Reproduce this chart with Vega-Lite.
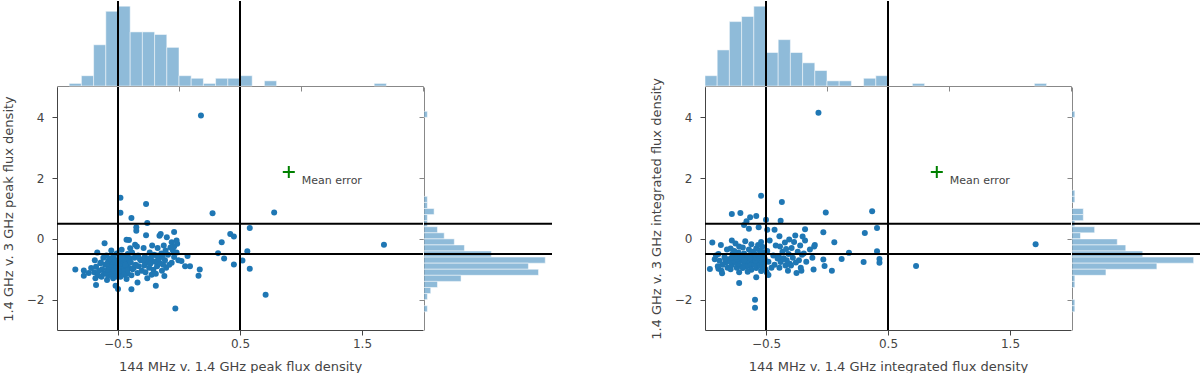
{
  "$schema": "https://vega.github.io/schema/vega-lite/v6.json",
  "padding": {"left": 2, "top": 0, "right": 0, "bottom": 0},
  "background": "white",
  "config": {
    "view": {"stroke": null},
    "font": "DejaVu Sans",
    "axis": {"grid": false, "labelFont": "DejaVu Sans", "titleFont": "DejaVu Sans", "labelFontSize": 12, "titleFontSize": 13, "titleFontWeight": "normal", "labelColor": "#444", "titleColor": "#444", "domainColor": "#444", "tickColor": "#444"}
  },
  "datasets": {
    "vlines": [{"v": -0.5}, {"v": 0.5}],
    "mean": [{"x": 0.9, "y": 2.2, "label": "Mean error"}],
    "histTopL": [
      {"lo": -0.9, "hi": -0.8, "n": 1}, {"lo": -0.8, "hi": -0.7, "n": 4}, {"lo": -0.7, "hi": -0.6, "n": 16}, {"lo": -0.6, "hi": -0.5, "n": 29},
      {"lo": -0.5, "hi": -0.4, "n": 31}, {"lo": -0.4, "hi": -0.3, "n": 21}, {"lo": -0.3, "hi": -0.2, "n": 21}, {"lo": -0.2, "hi": -0.1, "n": 20},
      {"lo": -0.1, "hi": 0.0, "n": 15}, {"lo": 0.0, "hi": 0.1, "n": 4}, {"lo": 0.1, "hi": 0.2, "n": 3}, {"lo": 0.2, "hi": 0.3, "n": 1},
      {"lo": 0.3, "hi": 0.4, "n": 3}, {"lo": 0.4, "hi": 0.5, "n": 3}, {"lo": 0.5, "hi": 0.6, "n": 4}, {"lo": 0.7, "hi": 0.8, "n": 2},
      {"lo": 1.6, "hi": 1.7, "n": 1}
    ],
    "histTopR": [
      {"lo": -1.0, "hi": -0.9, "n": 4}, {"lo": -0.9, "hi": -0.8, "n": 14}, {"lo": -0.8, "hi": -0.7, "n": 25}, {"lo": -0.7, "hi": -0.6, "n": 27},
      {"lo": -0.6, "hi": -0.5, "n": 31}, {"lo": -0.5, "hi": -0.4, "n": 13}, {"lo": -0.4, "hi": -0.3, "n": 18}, {"lo": -0.3, "hi": -0.2, "n": 13},
      {"lo": -0.2, "hi": -0.1, "n": 9}, {"lo": -0.1, "hi": 0.0, "n": 6}, {"lo": 0.0, "hi": 0.1, "n": 2}, {"lo": 0.1, "hi": 0.2, "n": 2},
      {"lo": 0.3, "hi": 0.4, "n": 3}, {"lo": 0.4, "hi": 0.5, "n": 4}, {"lo": 0.7, "hi": 0.8, "n": 1}, {"lo": 1.7, "hi": 1.8, "n": 1}
    ],
    "histRightL": [
      {"lo": 4.0, "hi": 4.2, "n": 1}, {"lo": 1.2, "hi": 1.4, "n": 1}, {"lo": 1.0, "hi": 1.2, "n": 1}, {"lo": 0.8, "hi": 1.0, "n": 3},
      {"lo": 0.6, "hi": 0.8, "n": 1}, {"lo": 0.4, "hi": 0.6, "n": 1}, {"lo": 0.2, "hi": 0.4, "n": 4}, {"lo": 0.0, "hi": 0.2, "n": 6},
      {"lo": -0.2, "hi": 0.0, "n": 9}, {"lo": -0.4, "hi": -0.2, "n": 12}, {"lo": -0.6, "hi": -0.4, "n": 20}, {"lo": -0.8, "hi": -0.6, "n": 36},
      {"lo": -1.0, "hi": -0.8, "n": 31}, {"lo": -1.2, "hi": -1.0, "n": 34}, {"lo": -1.4, "hi": -1.2, "n": 11}, {"lo": -1.6, "hi": -1.4, "n": 4},
      {"lo": -1.8, "hi": -1.6, "n": 2}, {"lo": -2.0, "hi": -1.8, "n": 1}, {"lo": -2.4, "hi": -2.2, "n": 1}
    ],
    "histRightR": [
      {"lo": 4.0, "hi": 4.2, "n": 1}, {"lo": 1.4, "hi": 1.6, "n": 1}, {"lo": 1.2, "hi": 1.4, "n": 1}, {"lo": 0.8, "hi": 1.0, "n": 4},
      {"lo": 0.6, "hi": 0.8, "n": 4}, {"lo": 0.4, "hi": 0.6, "n": 1}, {"lo": 0.2, "hi": 0.4, "n": 8}, {"lo": 0.0, "hi": 0.2, "n": 3},
      {"lo": -0.2, "hi": 0.0, "n": 16}, {"lo": -0.4, "hi": -0.2, "n": 19}, {"lo": -0.6, "hi": -0.4, "n": 25}, {"lo": -0.8, "hi": -0.6, "n": 43},
      {"lo": -1.0, "hi": -0.8, "n": 30}, {"lo": -1.2, "hi": -1.0, "n": 12}, {"lo": -1.4, "hi": -1.2, "n": 1}, {"lo": -1.6, "hi": -1.4, "n": 1},
      {"lo": -2.2, "hi": -2.0, "n": 1}, {"lo": -2.4, "hi": -2.2, "n": 1}
    ],
    "ptsL": [
      {"x": 0.18, "y": 4.06}, {"x": -0.48, "y": 1.35}, {"x": -0.27, "y": 1.15}, {"x": -0.48, "y": 0.86}, {"x": -0.39, "y": 0.69},
      {"x": 0.275, "y": 0.84}, {"x": 0.78, "y": 0.87}, {"x": -0.26, "y": 0.52}, {"x": -0.35, "y": 0.38}, {"x": -0.35, "y": 0.27},
      {"x": -0.15, "y": 0.16}, {"x": -0.04, "y": 0.23}, {"x": -0.1, "y": 0.05}, {"x": 0.42, "y": 0.16}, {"x": 0.45, "y": 0.08},
      {"x": 0.58, "y": 0.36}, {"x": 1.68, "y": -0.19}, {"x": 0.35, "y": -0.11}, {"x": 0.32, "y": -0.47}, {"x": 0.37, "y": -0.65},
      {"x": 0.56, "y": -0.41}, {"x": 0.52, "y": -0.71}, {"x": 0.45, "y": -0.84}, {"x": 0.58, "y": -0.98}, {"x": 0.71, "y": -1.84},
      {"x": -0.03, "y": -2.29}, {"x": 0.17, "y": -1.01}, {"x": 0.16, "y": -1.21}, {"x": 0.07, "y": -0.56}, {"x": 0.05, "y": -0.9},
      {"x": 0.09, "y": -0.9}, {"x": 0.02, "y": -0.73}, {"x": -0.06, "y": -0.79}, {"x": -0.02, "y": -0.05}, {"x": -0.015, "y": -0.16},
      {"x": -0.06, "y": -0.11}, {"x": -0.05, "y": -0.38}, {"x": -0.04, "y": -0.25}, {"x": -0.19, "y": -1.54}, {"x": -0.34, "y": -1.44},
      {"x": -0.39, "y": -1.66}, {"x": -0.52, "y": -1.54}, {"x": -0.5, "y": -1.65}, {"x": -0.68, "y": -1.52}, {"x": -0.85, "y": -1.01},
      {"x": -0.78, "y": -1.04}, {"x": -0.78, "y": -1.21}, {"x": -0.72, "y": -0.96}, {"x": -0.61, "y": -0.14}, {"x": -0.43, "y": -0.03},
      {"x": -0.41, "y": -0.04}, {"x": -0.36, "y": -0.19}, {"x": -0.4, "y": -0.31},
      {"x": -0.74, "y": -1.12},
      {"x": -0.67, "y": -0.45}, {"x": -0.62, "y": -0.62}, {"x": -0.69, "y": -0.7}, {"x": -0.64, "y": -0.78}, {"x": -0.605, "y": -0.85},
      {"x": -0.68, "y": -0.92}, {"x": -0.63, "y": -1.0}, {"x": -0.655, "y": -1.05}, {"x": -0.695, "y": -1.1}, {"x": -0.615, "y": -1.15},
      {"x": -0.665, "y": -1.2}, {"x": -0.635, "y": -1.25}, {"x": -0.685, "y": -1.3}, {"x": -0.645, "y": -0.8},
      {"x": -0.57, "y": -1.0}, {"x": -0.52, "y": -0.7}, {"x": -0.59, "y": -1.35}, {"x": -0.54, "y": -1.3}, {"x": -0.505, "y": -1.25},
      {"x": -0.58, "y": -1.22}, {"x": -0.53, "y": -1.18}, {"x": -0.555, "y": -1.15}, {"x": -0.595, "y": -1.12}, {"x": -0.515, "y": -1.1},
      {"x": -0.565, "y": -1.08}, {"x": -0.535, "y": -1.05}, {"x": -0.585, "y": -1.02}, {"x": -0.545, "y": -0.98}, {"x": -0.51, "y": -0.95},
      {"x": -0.575, "y": -0.92}, {"x": -0.525, "y": -0.88}, {"x": -0.56, "y": -0.85}, {"x": -0.59, "y": -0.82}, {"x": -0.52, "y": -0.78},
      {"x": -0.55, "y": -0.75}, {"x": -0.58, "y": -0.72}, {"x": -0.53, "y": -0.68}, {"x": -0.565, "y": -0.65}, {"x": -0.54, "y": -0.6},
      {"x": -0.595, "y": -0.55}, {"x": -0.51, "y": -0.48}, {"x": -0.555, "y": -0.38},
      {"x": -0.47, "y": -0.36}, {"x": -0.42, "y": -0.5}, {"x": -0.49, "y": -0.55}, {"x": -0.44, "y": -0.6}, {"x": -0.405, "y": -0.64},
      {"x": -0.48, "y": -0.68}, {"x": -0.43, "y": -0.7}, {"x": -0.455, "y": -0.75}, {"x": -0.495, "y": -0.78}, {"x": -0.415, "y": -0.8},
      {"x": -0.465, "y": -0.84}, {"x": -0.435, "y": -0.87}, {"x": -0.485, "y": -0.9}, {"x": -0.445, "y": -0.94}, {"x": -0.41, "y": -0.97},
      {"x": -0.475, "y": -1.0}, {"x": -0.425, "y": -1.03}, {"x": -0.46, "y": -1.06}, {"x": -0.49, "y": -1.1}, {"x": -0.42, "y": -1.14},
      {"x": -0.45, "y": -1.18}, {"x": -0.48, "y": -1.25}, {"x": -0.43, "y": -1.32}, {"x": -0.465, "y": -0.62}, {"x": -0.44, "y": -0.85},
      {"x": -0.495, "y": -1.08},
      {"x": -0.37, "y": -0.95}, {"x": -0.32, "y": -0.66}, {"x": -0.39, "y": -1.2}, {"x": -0.34, "y": -1.12}, {"x": -0.305, "y": -1.05},
      {"x": -0.38, "y": -1.0}, {"x": -0.33, "y": -0.9}, {"x": -0.355, "y": -0.85}, {"x": -0.395, "y": -0.78}, {"x": -0.315, "y": -0.7},
      {"x": -0.365, "y": -0.62}, {"x": -0.335, "y": -0.55}, {"x": -0.385, "y": -0.45}, {"x": -0.345, "y": -0.25},
      {"x": -0.27, "y": 0.12}, {"x": -0.22, "y": -0.22}, {"x": -0.29, "y": -0.3}, {"x": -0.24, "y": -0.45}, {"x": -0.205, "y": -0.52},
      {"x": -0.28, "y": -0.58}, {"x": -0.23, "y": -0.62}, {"x": -0.255, "y": -0.66}, {"x": -0.295, "y": -0.7}, {"x": -0.215, "y": -0.74},
      {"x": -0.265, "y": -0.78}, {"x": -0.235, "y": -0.82}, {"x": -0.285, "y": -0.88}, {"x": -0.245, "y": -0.95}, {"x": -0.21, "y": -1.02},
      {"x": -0.275, "y": -1.1}, {"x": -0.225, "y": -1.18}, {"x": -0.26, "y": -1.3}, {"x": -0.29, "y": -0.68},
      {"x": -0.17, "y": -0.62}, {"x": -0.12, "y": -1.22}, {"x": -0.19, "y": -1.15}, {"x": -0.14, "y": -1.05}, {"x": -0.105, "y": -0.95},
      {"x": -0.18, "y": -0.9}, {"x": -0.13, "y": -0.85}, {"x": -0.155, "y": -0.8}, {"x": -0.195, "y": -0.75}, {"x": -0.115, "y": -0.7},
      {"x": -0.165, "y": -0.65}, {"x": -0.135, "y": -0.6}, {"x": -0.185, "y": -0.55}, {"x": -0.145, "y": -0.48}, {"x": -0.11, "y": -0.38},
      {"x": -0.175, "y": -0.3}, {"x": -0.125, "y": -0.22}, {"x": -0.16, "y": 0.1},
      {"x": -0.07, "y": -0.28}, {"x": -0.02, "y": -0.45}, {"x": -0.09, "y": -0.52}, {"x": -0.04, "y": -0.6}, {"x": -0.005, "y": -0.7},
      {"x": -0.08, "y": -0.85}
    ],
    "ptsR": [
      {"x": -0.07, "y": 4.15}, {"x": -0.54, "y": 1.42}, {"x": -0.37, "y": 1.21}, {"x": -0.78, "y": 0.82}, {"x": -0.71, "y": 0.85},
      {"x": -0.63, "y": 0.71}, {"x": -0.58, "y": 0.75}, {"x": -0.66, "y": 0.58}, {"x": -0.68, "y": 0.46}, {"x": -0.64, "y": 0.33},
      {"x": -0.56, "y": 0.38}, {"x": -0.5, "y": 0.63}, {"x": -0.38, "y": 0.6}, {"x": -0.49, "y": 0.3}, {"x": -0.43, "y": 0.3},
      {"x": -0.39, "y": 0.09}, {"x": -0.26, "y": 0.11}, {"x": -0.2, "y": 0.08}, {"x": -0.18, "y": 0.32}, {"x": -0.01, "y": 0.87},
      {"x": -0.03, "y": 0.22}, {"x": 0.06, "y": -0.11}, {"x": 0.31, "y": 0.19}, {"x": 0.37, "y": 0.91}, {"x": 0.41, "y": 0.36},
      {"x": 0.41, "y": -0.41}, {"x": 0.43, "y": -0.66}, {"x": 0.43, "y": -0.79}, {"x": 0.3, "y": -0.76}, {"x": 0.18, "y": -0.46},
      {"x": 0.12, "y": -0.66}, {"x": -0.03, "y": -0.68}, {"x": -0.02, "y": -0.89}, {"x": -0.11, "y": -1.01}, {"x": 0.04, "y": -1.05},
      {"x": 0.73, "y": -0.89}, {"x": 1.71, "y": -0.18}, {"x": -0.94, "y": -0.12}, {"x": -0.96, "y": -0.99}, {"x": -0.92, "y": -0.67},
      {"x": -0.86, "y": -1.13}, {"x": -0.89, "y": -0.98}, {"x": -0.72, "y": -1.45}, {"x": -0.58, "y": -1.26}, {"x": -0.59, "y": -2.0},
      {"x": -0.59, "y": -2.27}, {"x": -0.48, "y": -1.19}, {"x": -0.25, "y": -1.12}, {"x": -0.21, "y": -1.05}, {"x": -0.1, "y": -0.2},
      {"x": -0.91, "y": -0.55},
      {"x": -0.87, "y": -0.2}, {"x": -0.82, "y": -0.35}, {"x": -0.89, "y": -0.5}, {"x": -0.84, "y": -0.6}, {"x": -0.805, "y": -0.68},
      {"x": -0.88, "y": -0.72}, {"x": -0.83, "y": -0.78}, {"x": -0.855, "y": -0.85}, {"x": -0.895, "y": -0.9}, {"x": -0.815, "y": -0.95},
      {"x": -0.865, "y": -1.05}, {"x": -0.835, "y": -0.65},
      {"x": -0.77, "y": -0.68}, {"x": -0.72, "y": -1.1}, {"x": -0.79, "y": -1.0}, {"x": -0.74, "y": -0.95}, {"x": -0.705, "y": -0.9},
      {"x": -0.78, "y": -0.86}, {"x": -0.73, "y": -0.82}, {"x": -0.755, "y": -0.78}, {"x": -0.795, "y": -0.75}, {"x": -0.715, "y": -0.72},
      {"x": -0.765, "y": -0.7}, {"x": -0.735, "y": -0.66}, {"x": -0.785, "y": -0.63}, {"x": -0.745, "y": -0.6}, {"x": -0.71, "y": -0.55},
      {"x": -0.775, "y": -0.5}, {"x": -0.725, "y": -0.45}, {"x": -0.76, "y": -0.4}, {"x": -0.79, "y": -0.32}, {"x": -0.72, "y": -0.25},
      {"x": -0.75, "y": -0.15}, {"x": -0.78, "y": -0.05},
      {"x": -0.67, "y": -0.08}, {"x": -0.62, "y": -0.18}, {"x": -0.69, "y": -0.28}, {"x": -0.64, "y": -0.35}, {"x": -0.605, "y": -0.42},
      {"x": -0.68, "y": -0.48}, {"x": -0.63, "y": -0.53}, {"x": -0.655, "y": -0.58}, {"x": -0.695, "y": -0.62}, {"x": -0.615, "y": -0.65},
      {"x": -0.665, "y": -0.68}, {"x": -0.635, "y": -0.71}, {"x": -0.685, "y": -0.74}, {"x": -0.645, "y": -0.77}, {"x": -0.61, "y": -0.8},
      {"x": -0.675, "y": -0.84}, {"x": -0.625, "y": -0.88}, {"x": -0.66, "y": -0.92}, {"x": -0.69, "y": -0.96}, {"x": -0.62, "y": -1.02},
      {"x": -0.65, "y": -1.08}, {"x": -0.68, "y": -0.7}, {"x": -0.63, "y": -0.64},
      {"x": -0.57, "y": -0.9}, {"x": -0.52, "y": -0.73}, {"x": -0.59, "y": -0.67}, {"x": -0.54, "y": -1.06}, {"x": -0.505, "y": -1.0},
      {"x": -0.58, "y": -0.96}, {"x": -0.53, "y": -0.92}, {"x": -0.555, "y": -0.88}, {"x": -0.595, "y": -0.85}, {"x": -0.515, "y": -0.82},
      {"x": -0.565, "y": -0.78}, {"x": -0.535, "y": -0.75}, {"x": -0.585, "y": -0.72}, {"x": -0.545, "y": -0.69}, {"x": -0.51, "y": -0.66},
      {"x": -0.575, "y": -0.63}, {"x": -0.525, "y": -0.6}, {"x": -0.56, "y": -0.55}, {"x": -0.59, "y": -0.5}, {"x": -0.52, "y": -0.44},
      {"x": -0.55, "y": -0.38}, {"x": -0.58, "y": -0.32}, {"x": -0.53, "y": -0.26}, {"x": -0.565, "y": -0.2}, {"x": -0.54, "y": -0.1},
      {"x": -0.47, "y": -0.05}, {"x": -0.42, "y": -0.22}, {"x": -0.49, "y": -0.4}, {"x": -0.44, "y": -0.55}, {"x": -0.405, "y": -0.65},
      {"x": -0.48, "y": -0.75}, {"x": -0.43, "y": -0.85}, {"x": -0.455, "y": -0.95}, {"x": -0.495, "y": -1.1},
      {"x": -0.37, "y": -0.68}, {"x": -0.32, "y": -1.05}, {"x": -0.39, "y": -0.95}, {"x": -0.34, "y": -0.88}, {"x": -0.305, "y": -0.82},
      {"x": -0.38, "y": -0.76}, {"x": -0.33, "y": -0.7}, {"x": -0.355, "y": -0.64}, {"x": -0.395, "y": -0.58}, {"x": -0.315, "y": -0.5},
      {"x": -0.365, "y": -0.42}, {"x": -0.335, "y": -0.33}, {"x": -0.385, "y": -0.25}, {"x": -0.345, "y": -0.12}, {"x": -0.31, "y": -0.02},
      {"x": -0.27, "y": -0.1}, {"x": -0.22, "y": -0.22}, {"x": -0.29, "y": -0.3}, {"x": -0.24, "y": -0.42}, {"x": -0.205, "y": -0.52},
      {"x": -0.28, "y": -0.62}, {"x": -0.23, "y": -0.7}, {"x": -0.255, "y": -0.78}, {"x": -0.295, "y": -0.88}, {"x": -0.215, "y": -0.95},
      {"x": -0.17, "y": -0.75}, {"x": -0.12, "y": -0.62}, {"x": -0.19, "y": -0.48}, {"x": -0.14, "y": -0.35}, {"x": -0.105, "y": -0.25},
      {"x": -0.18, "y": -0.05}
    ]
  },
  "hconcat": [
    {
      "concat": [
        {
          "width": 366, "height": 85,
          "layer": [
            {"data": {"name": "histTopL"}, "mark": {"type": "bar", "fill": "#1f77b4", "fillOpacity": 0.5, "stroke": "#ffffff", "strokeOpacity": 0.5, "strokeWidth": 1},
             "encoding": {"x": {"field": "lo", "type": "quantitative", "scale": {"domain": [-1, 2], "nice": false, "zero": false}, "axis": {"values": [-1, 0, 1, 2], "labels": false, "title": null, "domainColor": "#888", "tickColor": "#888", "tickSize": 5}},
                          "x2": {"field": "hi"},
                          "y": {"field": "n", "type": "quantitative", "scale": {"domain": [0, 33], "nice": false}, "axis": null},
                          "y2": {"datum": 0}}},
            {"data": {"name": "vlines"}, "mark": {"type": "rule", "color": "black", "strokeWidth": 2},
             "encoding": {"x": {"field": "v", "type": "quantitative"}}}
          ]
        },
        {"width": 128, "height": 85, "data": {"values": [{"t": ""}]}, "mark": {"type": "text"}, "encoding": {"text": {"field": "t"}}},
        {
          "width": 366, "height": 243,
          "layer": [
            {"data": {"name": "ptsL"}, "mark": {"type": "circle", "size": 36, "color": "#1f77b4", "opacity": 1},
             "encoding": {"x": {"field": "x", "type": "quantitative", "scale": {"domain": [-1, 2], "nice": false, "zero": false}, "axis": {"values": [-0.5, 0.5, 1.5], "title": "144 MHz v. 1.4 GHz peak flux density", "tickSize": 5, "labelPadding": 3, "titlePadding": 11}},
                          "y": {"field": "y", "type": "quantitative", "scale": {"domain": [-3, 5], "nice": false, "zero": false}, "axis": {"values": [-2, 0, 2, 4], "title": "1.4 GHz v. 3 GHz peak flux density", "tickSize": 5, "labelPadding": 8, "titlePadding": 11}}}},
            {"data": {"name": "vlines"}, "mark": {"type": "rule", "color": "black", "strokeWidth": 2},
             "encoding": {"x": {"field": "v", "type": "quantitative"}}},
            {"data": {"name": "vlines"}, "mark": {"type": "rule", "color": "black", "strokeWidth": 2},
             "encoding": {"y": {"field": "v", "type": "quantitative"}}},
            {"data": {"name": "mean"}, "mark": {"type": "point", "shape": "M-1,0H1M0,-1V1", "size": 144, "filled": false, "stroke": "#008000", "strokeWidth": 2, "opacity": 1},
             "encoding": {"x": {"field": "x", "type": "quantitative"}, "y": {"field": "y", "type": "quantitative"}}},
            {"data": {"name": "mean"}, "mark": {"type": "text", "align": "left", "baseline": "middle", "dx": 13, "dy": 9, "fontSize": 11, "color": "#444", "font": "DejaVu Sans"},
             "encoding": {"x": {"field": "x", "type": "quantitative"}, "y": {"field": "y", "type": "quantitative"}, "text": {"field": "label"}}}
          ]
        },
        {
          "width": 128, "height": 243,
          "layer": [
            {"data": {"name": "histRightL"}, "mark": {"type": "bar", "fill": "#1f77b4", "fillOpacity": 0.5, "stroke": "#ffffff", "strokeOpacity": 0.5, "strokeWidth": 1},
             "encoding": {"y": {"field": "lo", "type": "quantitative", "scale": {"domain": [-3, 5], "nice": false, "zero": false}, "axis": {"values": [-2, 0, 2, 4], "labels": false, "title": null, "domainColor": "#888", "tickColor": "#888", "tickSize": 5}},
                          "y2": {"field": "hi"},
                          "x": {"field": "n", "type": "quantitative", "scale": {"domain": [0, 38], "nice": false}, "axis": null},
                          "x2": {"datum": 0}}},
            {"data": {"name": "vlines"}, "mark": {"type": "rule", "color": "black", "strokeWidth": 2},
             "encoding": {"y": {"field": "v", "type": "quantitative"}}}
          ]
        }
      ],
      "columns": 2,
      "spacing": {"row": 1, "column": 1},
      "bounds": "flush",
      "align": "each"
    },
    {
      "concat": [
        {
          "width": 366, "height": 85,
          "layer": [
            {"data": {"name": "histTopR"}, "mark": {"type": "bar", "fill": "#1f77b4", "fillOpacity": 0.5, "stroke": "#ffffff", "strokeOpacity": 0.5, "strokeWidth": 1},
             "encoding": {"x": {"field": "lo", "type": "quantitative", "scale": {"domain": [-1, 2], "nice": false, "zero": false}, "axis": {"values": [-1, 0, 1, 2], "labels": false, "title": null, "domainColor": "#888", "tickColor": "#888", "tickSize": 5}},
                          "x2": {"field": "hi"},
                          "y": {"field": "n", "type": "quantitative", "scale": {"domain": [0, 33], "nice": false}, "axis": null},
                          "y2": {"datum": 0}}},
            {"data": {"name": "vlines"}, "mark": {"type": "rule", "color": "black", "strokeWidth": 2},
             "encoding": {"x": {"field": "v", "type": "quantitative"}}}
          ]
        },
        {"width": 129, "height": 85, "data": {"values": [{"t": ""}]}, "mark": {"type": "text"}, "encoding": {"text": {"field": "t"}}},
        {
          "width": 366, "height": 243,
          "layer": [
            {"data": {"name": "ptsR"}, "mark": {"type": "circle", "size": 36, "color": "#1f77b4", "opacity": 1},
             "encoding": {"x": {"field": "x", "type": "quantitative", "scale": {"domain": [-1, 2], "nice": false, "zero": false}, "axis": {"values": [-0.5, 0.5, 1.5], "title": "144 MHz v. 1.4 GHz integrated flux density", "tickSize": 5, "labelPadding": 3, "titlePadding": 11}},
                          "y": {"field": "y", "type": "quantitative", "scale": {"domain": [-3, 5], "nice": false, "zero": false}, "axis": {"values": [-2, 0, 2, 4], "title": "1.4 GHz v. 3 GHz integrated flux density", "tickSize": 5, "labelPadding": 8, "titlePadding": 11}}}},
            {"data": {"name": "vlines"}, "mark": {"type": "rule", "color": "black", "strokeWidth": 2},
             "encoding": {"x": {"field": "v", "type": "quantitative"}}},
            {"data": {"name": "vlines"}, "mark": {"type": "rule", "color": "black", "strokeWidth": 2},
             "encoding": {"y": {"field": "v", "type": "quantitative"}}},
            {"data": {"name": "mean"}, "mark": {"type": "point", "shape": "M-1,0H1M0,-1V1", "size": 144, "filled": false, "stroke": "#008000", "strokeWidth": 2, "opacity": 1},
             "encoding": {"x": {"field": "x", "type": "quantitative"}, "y": {"field": "y", "type": "quantitative"}}},
            {"data": {"name": "mean"}, "mark": {"type": "text", "align": "left", "baseline": "middle", "dx": 13, "dy": 9, "fontSize": 11, "color": "#444", "font": "DejaVu Sans"},
             "encoding": {"x": {"field": "x", "type": "quantitative"}, "y": {"field": "y", "type": "quantitative"}, "text": {"field": "label"}}}
          ]
        },
        {
          "width": 129, "height": 243,
          "layer": [
            {"data": {"name": "histRightR"}, "mark": {"type": "bar", "fill": "#1f77b4", "fillOpacity": 0.5, "stroke": "#ffffff", "strokeOpacity": 0.5, "strokeWidth": 1},
             "encoding": {"y": {"field": "lo", "type": "quantitative", "scale": {"domain": [-3, 5], "nice": false, "zero": false}, "axis": {"values": [-2, 0, 2, 4], "labels": false, "title": null, "domainColor": "#888", "tickColor": "#888", "tickSize": 5}},
                          "y2": {"field": "hi"},
                          "x": {"field": "n", "type": "quantitative", "scale": {"domain": [0, 45.6], "nice": false}, "axis": null},
                          "x2": {"datum": 0}}},
            {"data": {"name": "vlines"}, "mark": {"type": "rule", "color": "black", "strokeWidth": 2},
             "encoding": {"y": {"field": "v", "type": "quantitative"}}}
          ]
        }
      ],
      "columns": 2,
      "spacing": {"row": 1, "column": 1},
      "bounds": "flush",
      "align": "each"
    }
  ],
  "spacing": 97
}
